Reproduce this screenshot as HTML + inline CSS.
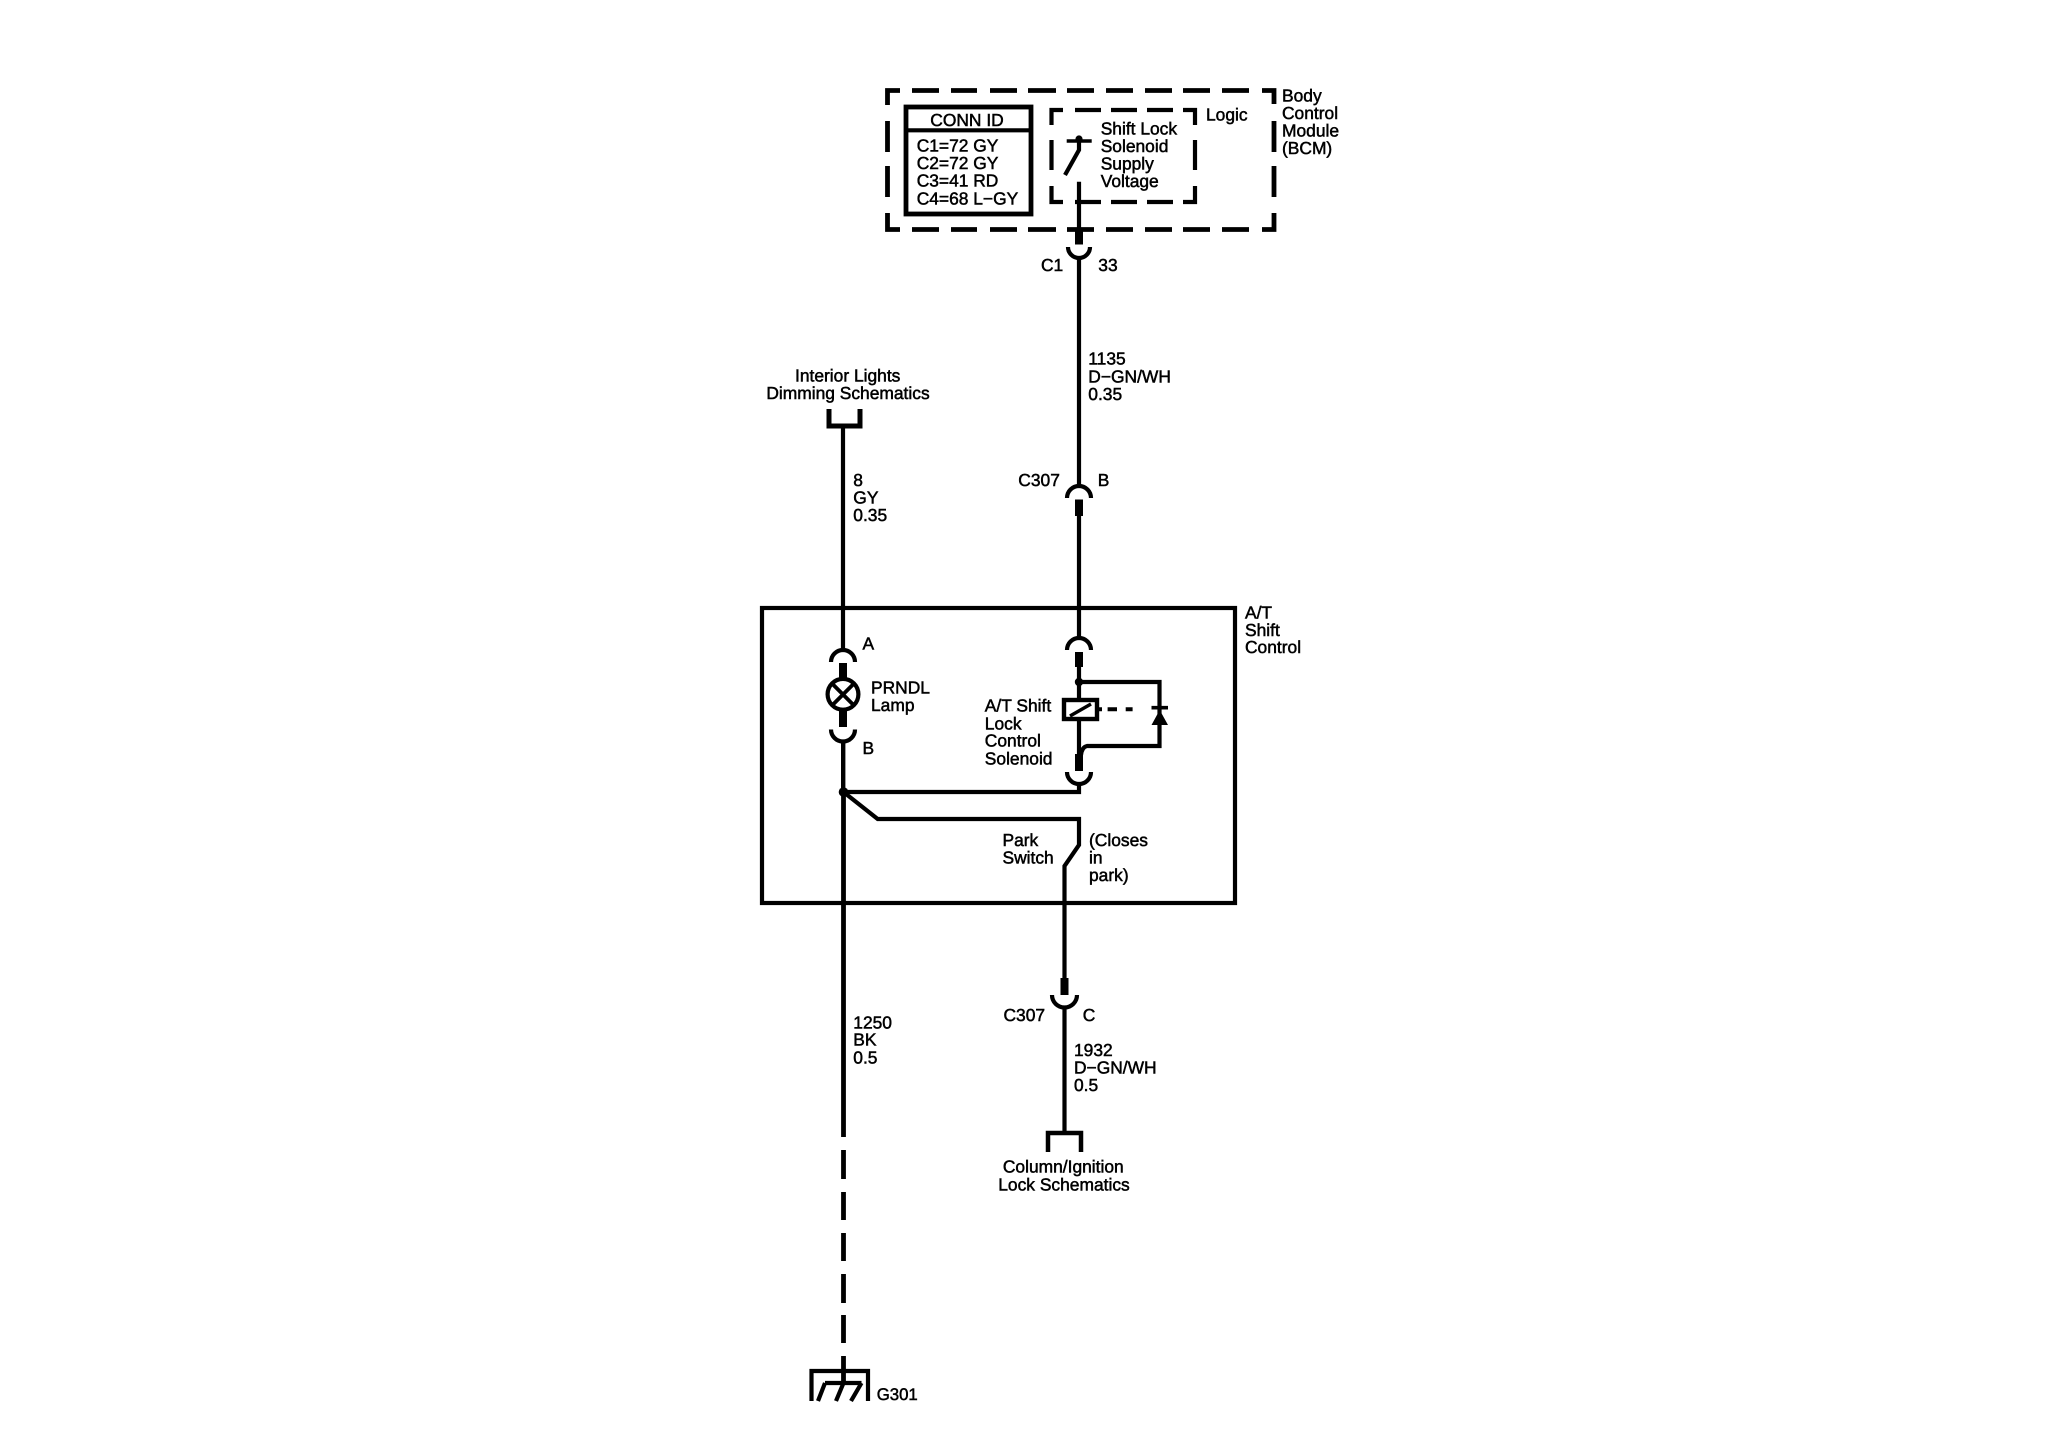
<!DOCTYPE html>
<html>
<head>
<meta charset="utf-8">
<style>
html,body{margin:0;padding:0;background:#fff;}
svg{display:block;}
text{font-family:"Liberation Sans",sans-serif;font-size:17.4px;fill:#000;stroke:#000;stroke-width:.5px;text-rendering:geometricPrecision;}
.m{text-anchor:middle;}
</style>
</head>
<body>
<svg width="2048" height="1440" viewBox="0 0 2048 1440" xmlns="http://www.w3.org/2000/svg">
<rect width="2048" height="1440" fill="#fff"/>
<g fill="none" stroke="#000" stroke-width="4.2">
  <!-- BCM dashed box -->
  <g stroke-width="4.8">
    <path d="M887.5 105V90.5H900"/>
    <path d="M912 90.5H939M951 90.5H977M990 90.5H1017M1028 90.5H1056M1067 90.5H1094M1106 90.5H1133M1145 90.5H1172M1183 90.5H1210M1222 90.5H1249"/>
    <path d="M1262 90.5H1274V104"/>
    <path d="M887.5 121V152M887.5 166V197M887.5 213V229.5H900"/>
    <path d="M912 229.5H939M951 229.5H977M990 229.5H1017M1028 229.5H1056M1067 229.5H1094M1106 229.5H1133M1145 229.5H1172M1183 229.5H1210M1222 229.5H1249"/>
    <path d="M1262 229.5H1274V213M1274 197V166M1274 152V121"/>
  </g>
  <!-- CONN ID box -->
  <rect x="906" y="107" width="125" height="107" stroke-width="4.8"/>
  <path d="M906 130.3H1031" stroke-width="4.2"/>
  <!-- Logic dashed box -->
  <path d="M1051.5 125V110H1063M1075 110H1101M1111 110H1137M1147 110H1173M1183 110H1195V125M1195 140V170M1195 186V202H1183M1173 202H1147M1137 202H1111M1101 202H1075M1063 202H1051.5V186M1051.5 170V140" stroke-width="4.2"/>
  <!-- Switch in logic -->
  <path d="M1066.7 141H1091.7" stroke-width="3.6"/>
  <path d="M1079 140V150L1065 175" stroke-width="4.2"/>
  <!-- Wire 1135 -->
  <path d="M1079 181.7V230"/>
  <path d="M1079 230V244.5" stroke-width="8"/>
  <path d="M1068 247A11 11 0 0 0 1090 247"/>
  <path d="M1079 257V470M1079 515V638"/>
  <path d="M1067 498A12 12 0 0 1 1091 498"/>
  <path d="M1079 486V470"/>
  <path d="M1079 499.5V516" stroke-width="8"/>
  <!-- Interior lights bracket and wire 8 -->
  <path d="M829 409V426H860V409" stroke-width="5"/>
  <path d="M843 425V651"/>
  <!-- A/T Shift Control box -->
  <rect x="762" y="608" width="473" height="295" stroke-width="4.2"/>
  <!-- PRNDL lamp -->
  <path d="M831 662A12 12 0 0 1 855 662"/>
  <path d="M843 663V678" stroke-width="8"/>
  <circle cx="843" cy="694.3" r="15.4"/>
  <path d="M832.5 684L853.5 705M853.5 684L832.5 705" stroke-width="3.8"/>
  <path d="M843 711V727" stroke-width="8"/>
  <path d="M831 729.5A12 12 0 0 0 855 729.5"/>
  <path d="M843.2 740V792" stroke-width="4.4"/>
  <path d="M843.5 792V1137M843.5 1150V1179M843.5 1192V1220M843.5 1233V1261M843.5 1274V1303M843.5 1315V1343M843.5 1356V1383" stroke-width="4.8"/>
  <!-- Solenoid branch -->
  <path d="M1067 650A12 12 0 0 1 1091 650"/>
  <path d="M1079 652V667" stroke-width="8"/>
  <path d="M1079 667V700"/>
  <path d="M1079 682H1159.5V746H1087Q1082 747 1081 755"/>
  <rect x="1064" y="700" width="33" height="19" stroke-width="4.4"/>
  <path d="M1070 716L1091 704" stroke-width="3.4"/>
  <path d="M1079 718V754"/>
  <path d="M1079 754V771" stroke-width="8"/>
  <path d="M1067 772A12 12 0 0 0 1091 772"/>
  <path d="M1079 783V792H843"/>
  <path d="M1097 709.3H1102M1107.6 709.3H1117M1125.7 709.3H1132.6" stroke-width="4"/>
  <path d="M1151.5 707.7H1168" stroke-width="3.6"/>
  <!-- Park switch -->
  <path d="M843.5 792L877.7 819H1079V845L1064.5 866V978"/>
  <path d="M1064.5 978V995" stroke-width="8"/>
  <path d="M1052 995A12.5 12.5 0 0 0 1077 995"/>
  <path d="M1064.5 1007V1133"/>
  <path d="M1048 1152V1133H1081V1152" stroke-width="4.5"/>
  <!-- Ground -->
  <path d="M811.5 1401V1371H868V1401" stroke-width="4.2"/>
  <path d="M825 1383H861.5" stroke-width="4.2"/>
  <path d="M825 1383L818 1401M843.5 1383L836 1401M861.5 1383L851 1401" stroke-width="4.2"/>
</g>
<circle cx="1079" cy="139" r="3.6"/>
<circle cx="1079" cy="682" r="4.2"/>
<circle cx="843.5" cy="792" r="4.8"/>
<polygon points="1159.7,710 1168,725 1151.5,725"/>
<!-- Labels -->
<text x="1282" y="101.3">Body</text>
<text x="1282" y="119">Control</text>
<text x="1282" y="136.7">Module</text>
<text x="1282" y="154">(BCM)</text>
<text x="1206" y="120.7">Logic</text>
<text x="967" y="126" class="m">CONN ID</text>
<text x="916.7" y="151.7">C1=72 GY</text>
<text x="916.7" y="169">C2=72 GY</text>
<text x="916.7" y="186.3">C3=41 RD</text>
<text x="916.7" y="204.3">C4=68 L−GY</text>
<text x="1100.7" y="134.3">Shift Lock</text>
<text x="1100.7" y="152">Solenoid</text>
<text x="1100.7" y="169.7">Supply</text>
<text x="1100.7" y="187">Voltage</text>
<text x="1041" y="271">C1</text>
<text x="1098.3" y="271">33</text>
<text x="1088.3" y="364.3">1135</text>
<text x="1088.3" y="382.3">D−GN/WH</text>
<text x="1088.3" y="400">0.35</text>
<text x="847.7" y="381.7" class="m">Interior Lights</text>
<text x="848" y="399" class="m">Dimming Schematics</text>
<text x="853.3" y="486">8</text>
<text x="853.3" y="503.3">GY</text>
<text x="853.3" y="521">0.35</text>
<text x="1018.3" y="486">C307</text>
<text x="1097.7" y="486">B</text>
<text x="1245" y="618.3">A/T</text>
<text x="1245" y="636">Shift</text>
<text x="1245" y="653">Control</text>
<text x="862.5" y="649.3">A</text>
<text x="871" y="693.3">PRNDL</text>
<text x="871" y="711">Lamp</text>
<text x="862.5" y="754">B</text>
<text x="984.8" y="711.7">A/T Shift</text>
<text x="984.8" y="729.3">Lock</text>
<text x="984.8" y="746.7">Control</text>
<text x="984.8" y="764.3">Solenoid</text>
<text x="1002.5" y="846">Park</text>
<text x="1002.5" y="863.5">Switch</text>
<text x="1089" y="846">(Closes</text>
<text x="1089" y="863.5">in</text>
<text x="1089" y="881">park)</text>
<text x="1003.5" y="1021">C307</text>
<text x="1082.7" y="1021">C</text>
<text x="1074" y="1056">1932</text>
<text x="1074" y="1073.7">D−GN/WH</text>
<text x="1074" y="1091">0.5</text>
<text x="853.3" y="1028.3">1250</text>
<text x="853.3" y="1045.7">BK</text>
<text x="853.3" y="1063.3">0.5</text>
<text x="1063.3" y="1172.7" class="m">Column/Ignition</text>
<text x="1064" y="1190.7" class="m">Lock Schematics</text>
<text x="876.7" y="1400" style="font-size:16.8px">G301</text>
</svg>
</body>
</html>
